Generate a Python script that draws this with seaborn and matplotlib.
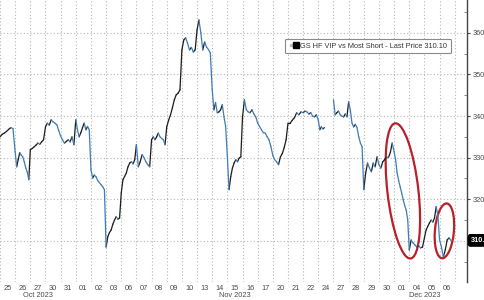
import numpy as np
import pandas as pd
import matplotlib
matplotlib.use("Agg")
import matplotlib.pyplot as plt
import seaborn as sns
from matplotlib.lines import Line2D
from matplotlib.patches import Ellipse
from matplotlib.legend_handler import HandlerTuple
import matplotlib.transforms as mtransforms

nan = np.nan

# ---- data: intraday values per trading day (evenly spaced within each session)
oct25 = [335.0, 335.6, 335.9, 336.3, 336.8, 337.2, 337.0]
oct26 = [331.4, 327.8, 329.5, 331.2, 330.6, 330.2, 329.0, 327.5, 326.5, 324.7]
oct27 = [331.9, 332.2, 332.6, 333.0, 333.5, 333.2, 333.8, 334.3]
oct30 = [337.4, 338.3, 337.8, 339.1, 338.6, 338.3, 337.9, 336.5]
oct31 = [335.2, 334.3, 333.5, 333.9, 334.3, 333.8, 335.0, 333.1]
nov01 = [339.1, 336.7, 335.0, 336.0, 337.2, 338.3, 336.7, 337.5, 336.7]
nov02 = [327.1, 325.1, 325.8, 325.4, 324.5, 324.0, 323.5, 323.0, 322.3]
nov03 = [308.5, 311.0, 312.0, 312.6, 314.0, 315.0, 315.8, 315.2, 315.5]
nov06 = [321.5, 324.7, 325.5, 326.3, 327.8, 328.7, 329.0, 328.5, 329.5]
nov07 = [333.1, 327.8, 329.0, 330.7, 330.0, 329.0, 328.3, 327.8]
nov08 = [334.3, 335.0, 334.3, 335.0, 335.9, 335.0, 334.6, 334.3, 333.1]
nov09 = [337.4, 339.0, 340.3, 342.0, 343.9, 345.1, 345.5, 346.3]
nov10 = [355.9, 358.3, 358.8, 357.5, 355.9, 356.5, 355.4, 355.9]
nov13 = [360.7, 363.1, 360.0, 355.9, 357.8, 356.6, 356.0, 355.2]
nov14 = [346.3, 341.5, 343.2, 340.8, 341.0, 341.5, 342.7, 339.8, 337.4]
nov15 = [330.2, 322.3, 325.4, 327.5, 328.7, 329.5, 329.0, 329.9, 330.2]
nov16 = [339.8, 343.9, 341.5, 341.0, 340.8, 341.5, 340.5, 339.8]
nov17 = [338.3, 337.5, 336.7, 336.0, 335.9, 335.0, 334.3, 332.6]
nov20 = [330.5, 329.5, 329.0, 328.3, 330.2, 331.0, 332.4, 334.3]
nov21 = [338.3, 338.3, 339.0, 339.6, 340.8, 340.3, 341.0]
nov22 = [340.8, 341.2, 341.0, 340.5, 340.8, 340.0, 339.8, 340.3]
nov24 = [339.0, 336.7, 337.4, 336.9, 337.2, nan, nan, nan, nan, nan]  # half session
nov27 = [343.9, 340.3, 340.8, 341.2, 340.3, 340.0, 339.8, 340.5, 339.8]
nov28 = [343.4, 341.5, 338.3, 337.4, 338.0, 337.2, 335.0, 333.5, 332.6]
nov29 = [322.3, 326.3, 328.7, 327.5, 326.6, 328.7, 327.8, 330.2]
nov30 = [328.3, 327.5, 329.0, 329.5, 330.2, 330.0, 331.2, 333.5]
dec01 = [331.4, 329.5, 326.3, 324.5, 323.0, 321.5, 319.9, 318.5, 317.4, 315.0]
dec04 = [307.8, 310.2, 309.5, 309.0, 308.5, 308.8, 308.3, 308.5]
dec05 = [310.7, 312.6, 313.5, 314.3, 315.0, 314.5, 315.5, 318.2, 316.0]
dec06 = [310.2, 308.5, 306.1, 307.8, 310.2, 310.7, 310.1, nan]

day_labels = ["25", "26", "27", "30", "31", "01", "02", "03", "06", "07", "08", "09",
              "10", "13", "14", "15", "16", "17", "20", "21", "22", "24", "27", "28",
              "29", "30", "01", "04", "05", "06"]
day_months = ["Oct 2023"] * 5 + ["Nov 2023"] * 21 + ["Dec 2023"] * 4
series_name = "GS HF VIP vs Most Short - Last Price 310.10"
last_price = 310.10

day_values = [oct25, oct26, oct27, oct30, oct31, nov01, nov02, nov03, nov06, nov07,
              nov08, nov09, nov10, nov13, nov14, nov15, nov16, nov17, nov20, nov21,
              nov22, nov24, nov27, nov28, nov29, nov30, dec01, dec04, dec05, dec06]

# ---- build the continuous series, then up/down segments
xs, ys = [], []
for i, vals in enumerate(day_values):
    n = len(vals)
    for k, v in enumerate(vals):
        xs.append(i + k / n)
        ys.append(v)
xs = np.array(xs)
ys = np.array(ys)

rows = []
for j in range(len(xs) - 1):
    if np.isnan(ys[j]) or np.isnan(ys[j + 1]):
        continue
    d = "up" if ys[j + 1] >= ys[j] else "down"
    rows.append({"x": xs[j], "y": ys[j], "seg": j, "dir": d})
    rows.append({"x": xs[j + 1], "y": ys[j + 1], "seg": j, "dir": d})
seg_df = pd.DataFrame(rows)

# ---- figure
sns.set_theme(style="white")
plt.rcParams["font.family"] = ["Liberation Sans", "DejaVu Sans"]
FS = 5.3

W, H = 485, 300
fig = plt.figure(figsize=(W / 100, H / 100), dpi=100)
ax = fig.add_axes([0.0, 1 - 282 / H, 467 / W, 282 / H])

sns.lineplot(data=seg_df, x="x", y="y", units="seg", hue="dir", estimator=None,
             sort=False, palette={"up": "#1c1c1c", "down": "#3f7db5"},
             linewidth=0.9, legend=False, ax=ax)

ax.set_xlim(0.43, 30.81)
ax.set_ylim(300.1, 367.9)
ax.set_xlabel("")
ax.set_ylabel("")

# grid
ndays = len(day_labels)
ax.set_xticks(np.arange(0, ndays + 1))
ax.set_xticklabels([])
ax.tick_params(axis="x", which="major", length=0)
month_bounds = [i for i in range(1, ndays) if day_months[i] != day_months[i - 1]]
ax.set_xticks(month_bounds, minor=True)
ax.tick_params(axis="x", which="minor", length=13.5, width=0.8, color="#555555", direction="out")

yt = np.arange(310, 361, 10)
ax.set_yticks(yt)
ax.set_yticklabels(["" if v == 310 else str(v) for v in yt])
ax.set_yticks(np.arange(305, 366, 10), minor=True)
ax.yaxis.tick_right()
ax.tick_params(axis="y", which="major", length=2.5, width=0.8, color="#444444",
               labelsize=FS, labelcolor="#4a4a4a", pad=1.5, direction="out")
ax.tick_params(axis="y", which="minor", length=2, width=0.6, color="#777777", direction="in")
ax.grid(True, which="major", color="#b5b5b5", linestyle=(0, (1, 2)), linewidth=0.8)

for s in ["left", "top", "bottom"]:
    ax.spines[s].set_visible(False)
ax.spines["right"].set_color("#444444")
ax.spines["right"].set_linewidth(1.0)

# day labels and month labels
blend = mtransforms.blended_transform_factory(ax.transData, ax.transAxes)
for i, lab in enumerate(day_labels):
    ax.text(i + 0.5, -6 / 282, lab, transform=blend, ha="center", va="center",
            fontsize=FS, color="#4a4a4a", clip_on=False)
months_unique = list(dict.fromkeys(day_months))
for m in months_unique:
    idx = [i for i, mm in enumerate(day_months) if mm == m]
    ax.text((idx[0] + idx[-1] + 1) / 2, -13.5 / 282, m, transform=blend, ha="center",
            va="center", fontsize=FS, color="#4a4a4a", clip_on=False)

# legend
h1 = Line2D([], [], marker="s", color="none", markerfacecolor="#bbbbbb",
            markeredgecolor="#bbbbbb", markersize=2)
h2 = Line2D([], [], marker="s", color="none", markerfacecolor="black",
            markeredgecolor="black", markersize=4)
leg = ax.legend(handles=[(h1, h2)], labels=[series_name],
                handler_map={tuple: HandlerTuple(ndivide=None, pad=0.2)},
                loc="upper right", bbox_to_anchor=(0.966, 0.862), fontsize=FS,
                frameon=True, fancybox=True, edgecolor="#8a8a8a", facecolor="white",
                framealpha=1, handlelength=1.3, handletextpad=0.3, borderpad=0.5,
                borderaxespad=0)
leg.get_frame().set_linewidth(0.8)
for t in leg.get_texts():
    t.set_color("#333333")

# last price tag
ax.annotate(f"{last_price:.2f}", xy=(1, last_price), xycoords=("axes fraction", "data"),
            xytext=(2.5, 0), textcoords="offset points", ha="left", va="center",
            fontsize=FS, color="white", fontweight="bold",
            bbox=dict(boxstyle="round,pad=0.3", fc="black", ec="black"),
            annotation_clip=False)

# red highlight ellipses (sizes in inches, centred on data points)
ellipses = [((26.58, 322.0), 0.31, 1.36, 6.5), ((29.32, 312.4), 0.19, 0.55, -5)]
for (cx, cy), w, h, ang in ellipses:
    tr = fig.dpi_scale_trans + mtransforms.ScaledTranslation(cx, cy, ax.transData)
    e = Ellipse((0, 0), w, h, angle=ang, transform=tr, fill=False,
                edgecolor="#b8202a", linewidth=1.6, clip_on=False)
    ax.add_patch(e)

fig.savefig("out.png", dpi=100)
